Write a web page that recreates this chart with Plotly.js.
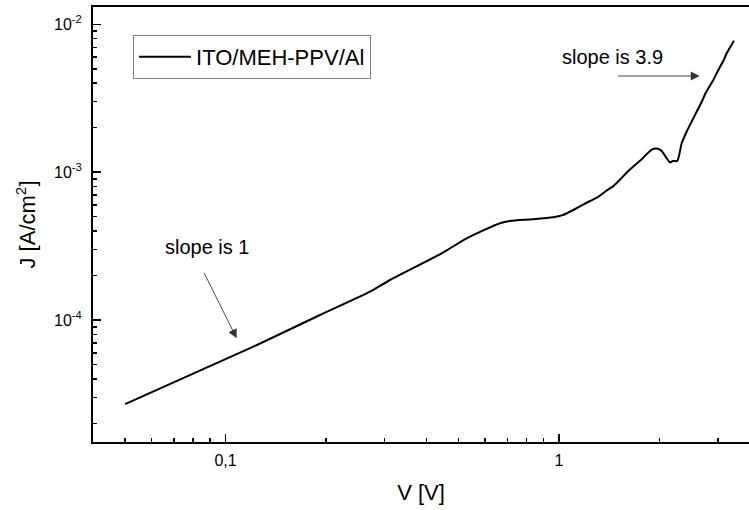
<!DOCTYPE html>
<html>
<head>
<meta charset="utf-8">
<script src="https://cdn.plot.ly/plotly-3.0.1.min.js"></script>
<style>html,body{margin:0;padding:0;background:#fff;}#chart{width:749px;height:510px;}</style>
</head>
<body>
<div id="chart"></div>
<script>
// Data (V in volts, J in A/cm^2)
const seriesName = "ITO/MEH-PPV/Al";
const voltage = [0.0500, 0.1212, 0.1920, 0.2713, 0.3114, 0.4448, 0.5288, 0.6655, 0.7128, 0.8374,
  0.9614, 1.0250, 1.0546, 1.104, 1.239, 1.309, 1.374, 1.455, 1.520, 1.600, 1.690, 1.760, 1.811, 1.897, 1.963, 2.032,
  2.103, 2.152, 2.197, 2.263, 2.333, 2.415, 2.557, 2.679, 2.750, 2.804, 2.902, 3.040, 3.110, 3.183, 3.347];
const currentDensity = [2.70e-5, 6.60e-5, 1.081e-4, 1.554e-4, 1.865e-4, 2.826e-4, 3.571e-4, 4.510e-4, 4.675e-4, 4.800e-4,
  4.952e-4, 5.12e-4, 5.27e-4, 5.55e-4, 6.385e-4, 6.795e-4, 7.38e-4, 8.05e-4, 8.85e-4, 1.000e-3, 1.120e-3, 1.210e-3, 1.290e-3, 1.420e-3, 1.446e-3, 1.391e-3,
  1.242e-3, 1.163e-3, 1.191e-3, 1.191e-3, 1.569e-3, 1.885e-3, 2.438e-3, 2.999e-3, 3.420e-3, 3.696e-3, 4.206e-3, 5.173e-3, 5.650e-3, 6.373e-3, 7.756e-3];

// Tick labels
const xTickVals = [0.1, 1];
const xTickText = ["0,1", "1"];
const xMinorVals = [0.04, 0.05, 0.06, 0.07, 0.08, 0.09, 0.2, 0.3, 0.4, 0.5, 0.6, 0.7, 0.8, 0.9, 2, 3];
const yTickVals = [1e-4, 1e-3, 1e-2];
const yTickText = ["10<sup>-4</sup>", "10<sup>-3</sup>", "10<sup>-2</sup>"];
const yMinorVals = [2e-5, 3e-5, 4e-5, 5e-5, 6e-5, 7e-5, 8e-5, 9e-5,
  2e-4, 3e-4, 4e-4, 5e-4, 6e-4, 7e-4, 8e-4, 9e-4,
  2e-3, 3e-3, 4e-3, 5e-3, 6e-3, 7e-3, 8e-3, 9e-3];

const FONT = "Liberation Sans, Arial, sans-serif";
const L = Math.log10;

const trace = {
  x: voltage, y: currentDensity, type: "scatter", mode: "lines",
  name: seriesName, line: {color: "#000", width: 2, shape: "spline", smoothing: 0.6}
};

const layout = {
  width: 749, height: 510,
  margin: {l: 93, r: 0, t: 7, b: 68},
  paper_bgcolor: "#fff", plot_bgcolor: "#fff",
  font: {family: FONT, color: "#000"},
  showlegend: true,
  legend: {
    x: 0.061, y: 0.9356, xanchor: "left", yanchor: "top",
    bordercolor: "#808080", borderwidth: 1, bgcolor: "#fff",
    font: {family: FONT, size: 22, color: "#000"},
    itemwidth: 52
  },
  xaxis: {
    type: "log", range: [-1.3973, 0.5697],
    tickmode: "array", tickvals: xTickVals, ticktext: xTickText,
    ticks: "inside", ticklen: 8, tickwidth: 1.5, tickcolor: "#000",
    minor: {tickmode: "array", tickvals: xMinorVals, ticks: "inside", ticklen: 4, tickwidth: 1.5, tickcolor: "#000", showgrid: false},
    showline: true, linecolor: "#000", linewidth: 2, mirror: true,
    showgrid: false, zeroline: false,
    tickfont: {family: FONT, size: 16, color: "#000"},
    ticklabelstandoff: 3,
    title: {text: "V [V]", font: {family: FONT, size: 22, color: "#000"}, standoff: 16}
  },
  yaxis: {
    type: "log", range: [-4.8254, -1.8823],
    tickmode: "array", tickvals: yTickVals, ticktext: yTickText,
    ticks: "inside", ticklen: 8, tickwidth: 1.5, tickcolor: "#000",
    minor: {tickmode: "array", tickvals: yMinorVals, ticks: "inside", ticklen: 4, tickwidth: 1.5, tickcolor: "#000", showgrid: false},
    showline: true, linecolor: "#000", linewidth: 2, mirror: false,
    showgrid: false, zeroline: false,
    tickfont: {family: FONT, size: 16, color: "#000"},
    ticklabelstandoff: 6,
    title: {text: "J [A/cm<sup>2</sup>]", font: {family: FONT, size: 22, color: "#000"}, standoff: 12}
  },
  annotations: [
    {x: L(0.0886), y: L(3.12e-4), xref: "x", yref: "y", text: "slope is 1", showarrow: false,
     font: {family: FONT, size: 20, color: "#000"}},
    {x: L(0.1080), y: L(7.52e-5), ax: L(0.0858), ay: L(2.136e-4), xref: "x", yref: "y", axref: "x", ayref: "y",
     text: "", showarrow: true, arrowhead: 2, arrowsize: 2, arrowwidth: 0.9, arrowcolor: "#333", standoff: 0},
    {x: L(1.442), y: L(6.02e-3), xref: "x", yref: "y", text: "slope is 3.9", showarrow: false,
     font: {family: FONT, size: 20, color: "#000"}},
    {x: L(2.642), y: L(4.476e-3), ax: L(1.489), ay: L(4.476e-3), xref: "x", yref: "y", axref: "x", ayref: "y",
     text: "", showarrow: true, arrowhead: 2, arrowsize: 2, arrowwidth: 0.9, arrowcolor: "#333", standoff: 0}
  ]
};

Plotly.newPlot("chart", [trace], layout, {displayModeBar: false, staticPlot: true});
</script>
</body>
</html>
